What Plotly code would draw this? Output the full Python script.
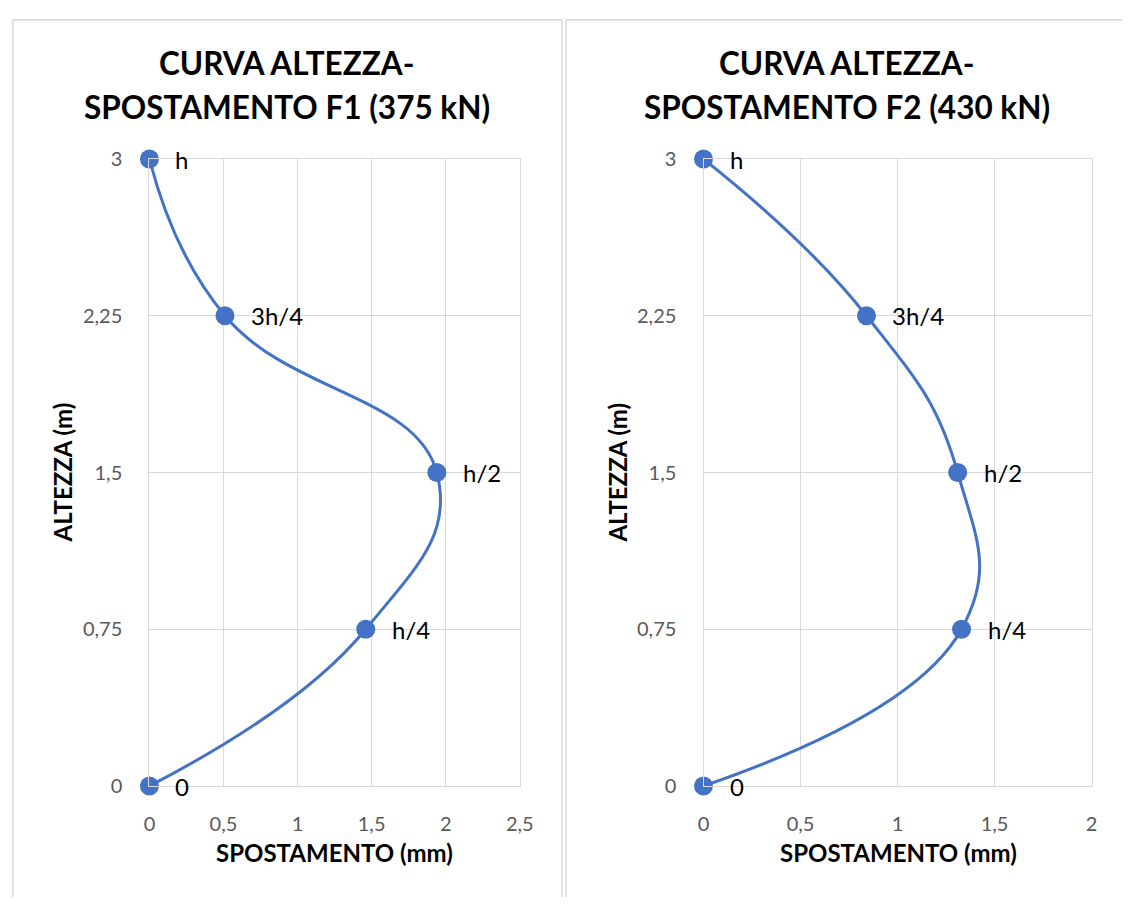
import plotly.graph_objects as go

# ---- data ----
heights = [0, 0.75, 1.5, 2.25, 3]
point_labels = ["0", "h/4", "h/2", "3h/4", "h"]
disp_f1 = [0, 1.46, 1.94, 0.51, 0]
disp_f2 = [0, 1.33, 1.31, 0.84, 0]

y_tickvals = [0, 0.75, 1.5, 2.25, 3]
y_ticktext = ["0", "0,75", "1,5", "2,25", "3"]
x1_tickvals = [0, 0.5, 1, 1.5, 2, 2.5]
x1_ticktext = ["0", "0,5", "1", "1,5", "2", "2,5"]
x2_tickvals = [0, 0.5, 1, 1.5, 2]
x2_ticktext = ["0", "0,5", "1", "1,5", "2"]

title_f1 = ["CURVA ALTEZZA-", "SPOSTAMENTO F1 (375 kN)"]
title_f2 = ["CURVA ALTEZZA-", "SPOSTAMENTO F2 (430 kN)"]
x_title = "SPOSTAMENTO (mm)"
y_title = "ALTEZZA (m)"

W, H = 1136, 908
BLUE = "#4472C4"
GRID = "#d9d9d9"
FONT = "Lato"

def px(x):
    return x / W

def py(y):
    return 1 - y / H

fig = go.Figure()

for disp, xa, ya in [(disp_f1, "x", "y"), (disp_f2, "x2", "y2")]:
    fig.add_trace(go.Scatter(
        x=disp, y=heights, mode="lines+markers",
        line=dict(color=BLUE, width=3, shape="spline", smoothing=1.3),
        marker=dict(color=BLUE, size=19),
        xaxis=xa, yaxis=ya, showlegend=False, cliponaxis=False,
    ))

axis_common = dict(
    showgrid=True, gridcolor=GRID, gridwidth=1.3, zeroline=False,
    showline=True, linecolor=GRID, linewidth=1.3, mirror=True,
    tickmode="array", ticks="",
    tickfont=dict(family=FONT, size=20, color="#595959"),
)

fig.update_layout(
    width=W, height=H, margin=dict(l=0, r=0, t=0, b=0),
    paper_bgcolor="white", plot_bgcolor="white",
    xaxis=dict(domain=[px(146), px(523)], range=[0, 2.5], anchor="y",
               tickvals=x1_tickvals, ticktext=x1_ticktext,
               ticklabelstandoff=20, **axis_common),
    yaxis=dict(domain=[py(794), py(150)], range=[0, 3], anchor="x",
               tickvals=y_tickvals, ticktext=y_ticktext,
               ticklabelstandoff=22, **axis_common),
    xaxis2=dict(domain=[px(710), px(1105)], range=[0, 2], anchor="y2",
                tickvals=x2_tickvals, ticktext=x2_ticktext,
                ticklabelstandoff=20, **axis_common),
    yaxis2=dict(domain=[py(794), py(150)], range=[0, 3], anchor="x2",
                tickvals=y_tickvals, ticktext=y_ticktext,
                ticklabelstandoff=22, **axis_common),
)

# chart box edges (kept inside the paper)
box_line = dict(color=GRID, width=1.5)
for x0, x1 in [(7, 566), (570, 1136)]:
    fig.add_shape(type="line", xref="paper", yref="paper",
                  x0=px(x0), x1=px(x1), y0=py(7), y1=py(7),
                  line=box_line, layer="below")
for xv in [7, 566, 570]:
    fig.add_shape(type="line", xref="paper", yref="paper",
                  x0=px(xv), x1=px(xv), y0=0, y1=py(7),
                  line=box_line, layer="below")

ann = []
# data labels
for disp, xr, yr in [(disp_f1, "x", "y"), (disp_f2, "x2", "y2")]:
    for xv, yv, lab in zip(disp, heights, point_labels):
        ann.append(dict(text=lab, x=xv, y=yv, xref=xr, yref=yr,
                        showarrow=False, xanchor="left", yanchor="middle",
                        xshift=24, yshift=0,
                        font=dict(family=FONT, size=24, color="black")))
# titles
for title, cx in [(title_f1, 286), (title_f2, 856)]:
    for line, cy in zip(title, [51, 97]):
        ann.append(dict(text="<b>" + line + "</b>", x=px(cx), y=py(cy),
                        xref="paper", yref="paper", showarrow=False,
                        xanchor="center", yanchor="middle",
                        font=dict(family=FONT, size=31.5, color="black")))
for cx in [334, 908]:
    ann.append(dict(text="<b>" + x_title + "</b>", x=px(cx), y=py(862),
                    xref="paper", yref="paper", showarrow=False,
                    xanchor="center", yanchor="middle",
                    font=dict(family=FONT, size=24, color="black")))
for cx in [58, 622]:
    ann.append(dict(text="<b>" + y_title + "</b>", x=px(cx), y=py(472),
                    xref="paper", yref="paper", showarrow=False, textangle=-90,
                    xanchor="center", yanchor="middle",
                    font=dict(family=FONT, size=24, color="black")))
fig.update_layout(annotations=ann)

fig.write_html("out.html",
               post_script="document.body.style.margin='0';"
                           "document.documentElement.style.overflow='hidden';")
